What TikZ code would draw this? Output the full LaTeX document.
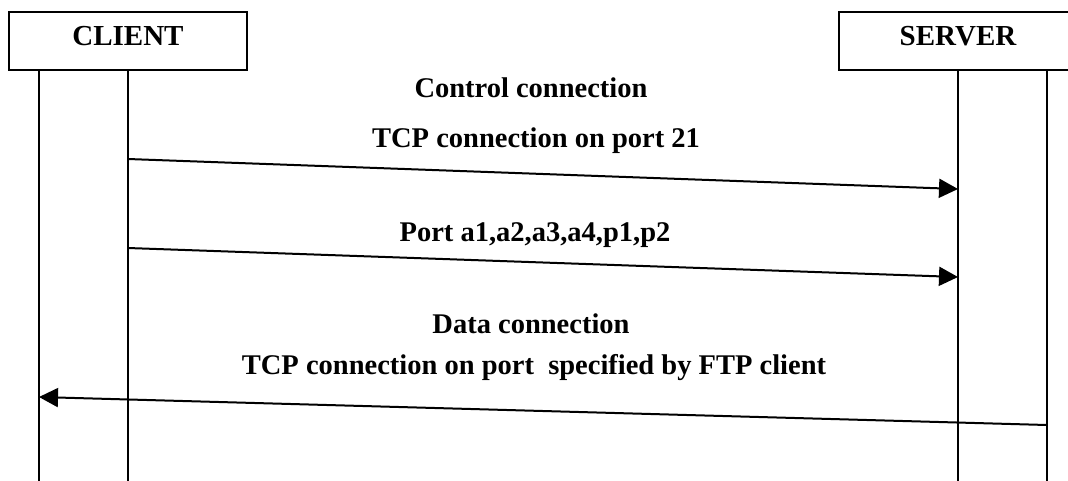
\documentclass[tikz,border=0pt]{standalone}
\usepackage{fontspec}
\setmainfont{Liberation Serif}
\usetikzlibrary{arrows.meta}

\begin{document}
\begin{tikzpicture}[x=1pt, y=-1pt,
  party/.style={draw, line width=2.4pt, minimum width=238pt, minimum height=58pt,
    inner sep=0pt, text height=20pt, text depth=12pt,
    font=\fontsize{29}{34}\selectfont\bfseries},
  lifeline/.style={line width=2pt},
  msg/.style={line width=2pt, -{Triangle[length=19pt, width=19pt]}},
  lbl/.style={anchor=base, inner sep=0pt, font=\fontsize{28.5}{34}\selectfont\bfseries}]
  \useasboundingbox (0,0) rectangle (1068,480);

  % participants
  \node[party] (client) at (128,41) {CLIENT};
  \node[party] (server) at (958,41) {SERVER};

  % lifelines
  \coordinate (c1) at (39,70);   \coordinate (c1b) at (39,482);
  \coordinate (c2) at (128,70);  \coordinate (c2b) at (128,482);
  \coordinate (s1) at (958,70);  \coordinate (s1b) at (958,482);
  \coordinate (s2) at (1047,70); \coordinate (s2b) at (1047,482);
  \draw[lifeline] (c1) -- (c1b);
  \draw[lifeline] (c2) -- (c2b);
  \draw[lifeline] (s1) -- (s1b);
  \draw[lifeline] (s2) -- (s2b);

  % control connection
  \node[lbl] (ctl) at (531,97) {Control connection};
  \node[lbl] (ctlport) at (536,147) {TCP connection on port 21};
  \coordinate (m1s) at (128,159);
  \coordinate (m1e) at (958,189);
  \draw[msg] (m1s) -- (m1e);

  % PORT command
  \node[lbl] (portcmd) at (535,241) {Port a1,a2,a3,a4,p1,p2};
  \coordinate (m2s) at (128,248);
  \coordinate (m2e) at (958,277);
  \draw[msg] (m2s) -- (m2e);

  % data connection
  \node[lbl] (data) at (531,333) {Data connection};
  \node[lbl] (dataport) at (534,374) {TCP connection on port\ \ specified by FTP client};
  \coordinate (m3s) at (1047,425);
  \coordinate (m3e) at (39,397);
  \draw[msg] (m3s) -- (m3e);
\end{tikzpicture}
\end{document}
